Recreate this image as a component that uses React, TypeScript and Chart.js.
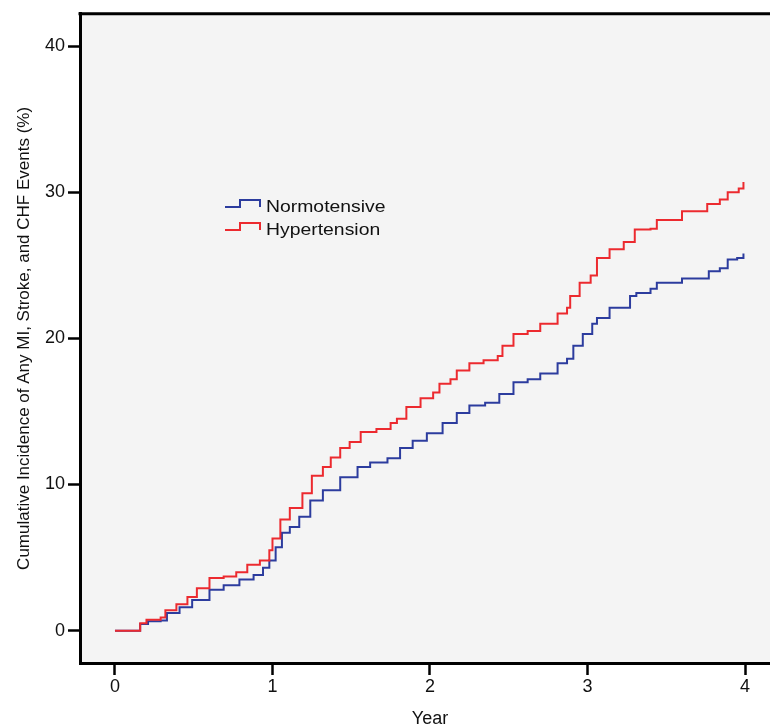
import { useEffect, useRef } from 'react';
import { Chart, registerables } from 'chart.js';

Chart.register(...registerables);

const legendLabels = ['Normotensive', 'Hypertension'];
const xAxisTitle = 'Year';
const yAxisTitle = 'Cumulative Incidence of Any MI, Stroke, and CHF Events (%)';
const xTickValues = [0, 1, 2, 3, 4];
const yTickValues = [0, 10, 20, 30, 40];

const normoYears = [
  0.0, 0.16, 0.21, 0.29, 0.33, 0.41, 0.49, 0.6, 0.69, 0.79, 0.88, 0.94, 0.98, 1.02, 1.06, 1.11,
  1.17, 1.24, 1.32, 1.43, 1.54, 1.62, 1.73, 1.81, 1.89, 1.98, 2.08, 2.17, 2.25, 2.35, 2.44,
  2.53, 2.62, 2.7, 2.81, 2.87, 2.91, 2.97, 3.03, 3.06, 3.14, 3.27, 3.31, 3.4, 3.44, 3.6,
  3.77, 3.84, 3.89, 3.95, 3.99,
];
const normoValues = [
  0.0, 0.45, 0.65, 0.7, 1.2, 1.6, 2.1, 2.8, 3.1, 3.5, 3.8, 4.3, 4.8, 5.7, 6.7, 7.1,
  7.8, 8.9, 9.6, 10.5, 11.2, 11.5, 11.8, 12.5, 13.0, 13.5, 14.2, 14.9, 15.4, 15.6, 16.2,
  17.0, 17.2, 17.6, 18.3, 18.6, 19.5, 20.3, 21.0, 21.4, 22.1, 22.9, 23.1, 23.4, 23.8, 24.1,
  24.6, 24.8, 25.4, 25.5, 25.8,
];

const hyperYears = [
  0.0, 0.16, 0.2, 0.29, 0.32, 0.39, 0.46, 0.52, 0.6, 0.69, 0.77, 0.84, 0.92, 0.98, 1.0, 1.05,
  1.11, 1.19, 1.25, 1.32, 1.37, 1.43, 1.49, 1.56, 1.66, 1.75, 1.79, 1.85, 1.94, 2.02, 2.06,
  2.13, 2.17, 2.25, 2.34, 2.43, 2.46, 2.53, 2.62, 2.7, 2.81, 2.87, 2.89, 2.95, 3.02, 3.06,
  3.14, 3.23, 3.3, 3.4, 3.44, 3.6, 3.76, 3.84, 3.89, 3.96, 3.99,
];
const hyperValues = [
  0.0, 0.5, 0.75, 0.9, 1.4, 1.8, 2.3, 2.9, 3.6, 3.7, 4.0, 4.5, 4.8, 5.5, 6.3, 7.6,
  8.4, 9.4, 10.6, 11.2, 11.85, 12.5, 12.9, 13.6, 13.8, 14.2, 14.5, 15.3, 15.9, 16.3, 16.9,
  17.2, 17.8, 18.3, 18.5, 18.8, 19.5, 20.3, 20.5, 21.0, 21.7, 22.1, 22.9, 23.8, 24.3, 25.5,
  26.1, 26.6, 27.45, 27.5, 28.1, 28.7, 29.2, 29.5, 30.0, 30.25, 30.7,
];

const BLUE = '#2c3c9e';
const RED = '#ec2a2f';
const FONT = '"Liberation Sans", Arial, sans-serif';

export default function App() {
  const ref = useRef<HTMLCanvasElement>(null);

  useEffect(() => {
    const canvas = ref.current;
    if (!canvas) return;

    const framePlugin = {
      id: 'frameAndLegend',
      beforeDraw(chart: any) {
        const { ctx, chartArea: a } = chart;
        ctx.save();
        ctx.fillStyle = '#f4f4f4';
        ctx.fillRect(a.left, a.top, a.right - a.left, a.bottom - a.top);
        ctx.restore();
      },
      afterDraw(chart: any) {
        const { ctx, chartArea: a } = chart;
        ctx.save();
        ctx.strokeStyle = '#000';
        ctx.lineWidth = 3;
        ctx.beginPath();
        ctx.moveTo(a.left - 1.5, a.top);
        ctx.lineTo(a.right, a.top);
        ctx.stroke();

        const items = [
          { label: legendLabels[0], color: BLUE, low: 207, base: 211.5 },
          { label: legendLabels[1], color: RED, low: 230, base: 234.5 },
        ];
        const gx = a.left + 145;
        items.forEach((it) => {
          ctx.strokeStyle = it.color;
          ctx.lineWidth = 2;
          ctx.beginPath();
          ctx.moveTo(gx, it.low);
          ctx.lineTo(gx + 15, it.low);
          ctx.lineTo(gx + 15, it.low - 7);
          ctx.lineTo(gx + 35, it.low - 7);
          ctx.lineTo(gx + 35, it.low);
          ctx.stroke();
          ctx.save();
          ctx.translate(gx + 41, it.base);
          ctx.scale(1.14, 1);
          ctx.fillStyle = '#111';
          ctx.font = `17px ${FONT}`;
          ctx.textBaseline = 'alphabetic';
          ctx.textAlign = 'left';
          ctx.fillText(it.label, 0, 0);
          ctx.restore();
        });
        ctx.restore();
      },
    };

    const chart = new Chart(canvas, {
      type: 'line',
      data: {
        datasets: [
          {
            label: legendLabels[1],
            data: hyperYears.map((x, i) => ({ x, y: hyperValues[i] })),
            borderColor: RED,
            borderWidth: 2,
            stepped: 'before',
            pointRadius: 0,
            fill: false,
          },
          {
            label: legendLabels[0],
            data: normoYears.map((x, i) => ({ x, y: normoValues[i] })),
            borderColor: BLUE,
            borderWidth: 2,
            stepped: 'before',
            pointRadius: 0,
            fill: false,
          },
        ],
      },
      options: {
        responsive: false,
        animation: false,
        devicePixelRatio: 1,
        layout: { padding: { top: 11, left: 0, right: 0, bottom: 0 } },
        plugins: { legend: { display: false }, tooltip: { enabled: false } },
        scales: {
          x: {
            type: 'linear',
            min: -0.222,
            max: 4.222,
            afterBuildTicks: (s: any) => {
              s.ticks = xTickValues.map((v) => ({ value: v }));
            },
            afterFit: (s: any) => {
              s.height = 64;
            },
            grid: {
              drawOnChartArea: false,
              drawTicks: true,
              tickLength: 12,
              tickColor: '#000',
              tickWidth: 2.5,
            },
            border: { display: true, color: '#000', width: 3 },
            ticks: {
              padding: 1,
              color: '#111',
              font: { family: FONT, size: 18 },
              maxRotation: 0,
              autoSkip: false,
            },
            title: {
              display: true,
              text: xAxisTitle,
              color: '#111',
              font: { family: FONT, size: 18, lineHeight: 1 },
              padding: { top: 0, bottom: -1.5 },
            },
          },
          y: {
            type: 'linear',
            min: -2.215,
            max: 42.21,
            afterBuildTicks: (s: any) => {
              s.ticks = yTickValues.map((v) => ({ value: v }));
            },
            afterFit: (s: any) => {
              s.width = 80;
            },
            grid: {
              drawOnChartArea: false,
              drawTicks: true,
              tickLength: 12,
              tickColor: '#000',
              tickWidth: 2.5,
            },
            border: { display: true, color: '#000', width: 3 },
            ticks: {
              padding: 3,
              color: '#111',
              font: { family: FONT, size: 18 },
              autoSkip: false,
            },
            title: {
              display: true,
              text: yAxisTitle,
              color: '#111',
              font: { family: FONT, size: 17 },
              padding: { top: 14, bottom: 0 },
            },
          },
        },
      },
      plugins: [framePlugin],
    } as any);

    return () => {
      chart.destroy();
    };
  }, []);

  return (
    <div
      style={{
        position: 'fixed',
        left: 0,
        top: 0,
        width: 770,
        height: 727,
        overflow: 'hidden',
        background: '#fff',
      }}
    >
      <canvas ref={ref} width={780} height={727} style={{ display: 'block' }} />
    </div>
  );
}
